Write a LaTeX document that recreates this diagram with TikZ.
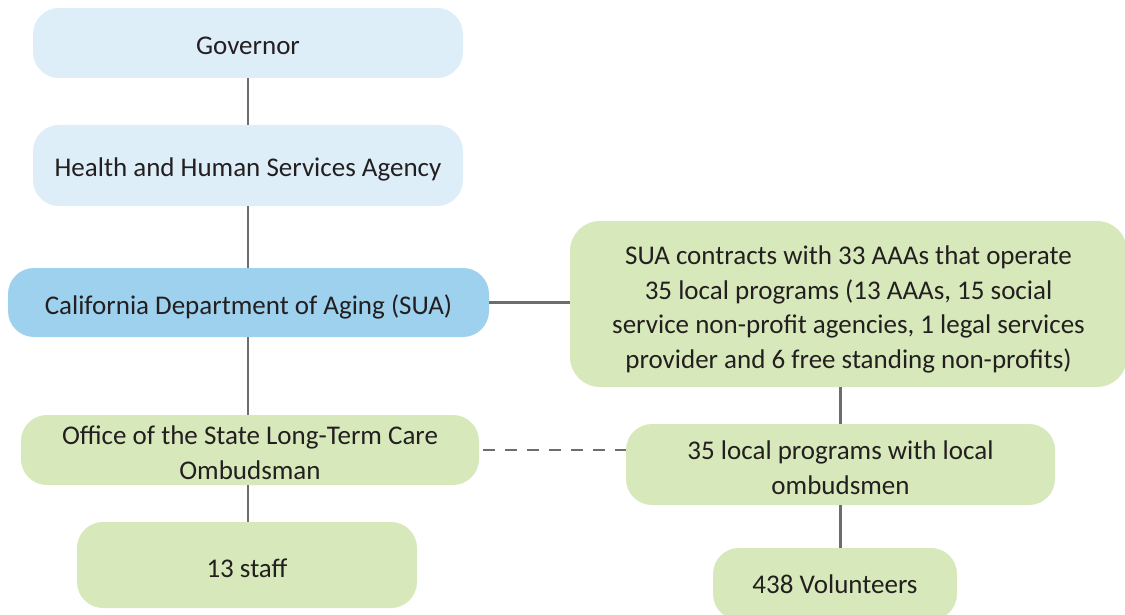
\documentclass[tikz,border=0pt]{standalone}
\usepackage{fontspec}
\setmainfont{Carlito}
\definecolor{lightblue}{HTML}{DDEEF8}
\definecolor{midblue}{HTML}{9DD1EE}
\definecolor{lightgreen}{HTML}{D7E8BA}
\definecolor{linegray}{HTML}{6D6D6D}
\definecolor{textdark}{HTML}{231F20}
\begin{document}
\begin{tikzpicture}[x=1pt,y=-1pt,
  box/.style={rectangle, rounded corners=26pt, inner sep=0pt},
  txt/.style={align=center, inner sep=0pt, text=textdark,
    font=\fontsize{27}{34.7}\selectfont, yshift=-3pt},
  conn/.style={draw=linegray, line width=2.5pt},
  dconn/.style={draw=linegray, line width=2.5pt, dash pattern=on 12pt off 10pt}]
\useasboundingbox (0,0) rectangle (1125,615);
\node[box, fill=lightblue, minimum width=430pt, minimum height=70pt,
  label={[txt]center:Governor}] (gov) at (248,43) {};
\node[box, fill=lightblue, minimum width=430pt, minimum height=81pt,
  label={[txt, yshift=-1pt]center:Health and Human Services Agency}] (hhs) at (248,165.5) {};
\node[box, fill=midblue, minimum width=481pt, minimum height=69pt,
  label={[txt, yshift=-1pt]center:{California Department of Aging (SUA)}}] (cda) at (248.5,302.5) {};
\node[box, fill=lightgreen, minimum width=458pt, minimum height=70pt,
  label={[txt]center:{Office of the State Long-Term Care\\Ombudsman}}] (off) at (250,450) {};
\node[box, fill=lightgreen, minimum width=340pt, minimum height=86pt,
  label={[txt]center:13 staff}] (staff) at (247,565) {};
\node[box, fill=lightgreen, minimum width=557pt, minimum height=166pt, rounded corners=30pt,
  label={[txt, yshift=-2.5pt]center:{SUA contracts with 33 AAAs that operate\\35 local programs (13 AAAs, 15 social\\service non-profit agencies, 1 legal services\\provider and 6 free standing non-profits)}}] (sua) at (848.5,304) {};
\node[box, fill=lightgreen, minimum width=429pt, minimum height=81pt,
  label={[txt]center:{35 local programs with local\\ombudsmen}}] (loc) at (840.5,464.5) {};
\node[box, fill=lightgreen, minimum width=244pt, minimum height=72pt,
  label={[txt, yshift=2.5pt]center:438 Volunteers}] (vol) at (835,584) {};
\draw[conn] (gov.south) -- (gov.south |- hhs.north);
\draw[conn] (hhs.south) -- (hhs.south |- cda.north);
\draw[conn] (hhs.south |- cda.south) -- (hhs.south |- off.north);
\draw[conn] (hhs.south |- off.south) -- (hhs.south |- staff.north);
\draw[conn] (cda.east) -- (cda.east -| sua.west);
\draw[conn] (loc.north) -- (loc.north |- sua.south);
\draw[conn] (loc.south) -- (loc.south |- vol.north);
\draw[dconn, shorten <=4pt] (off.east) -- (off.east -| loc.west);
\end{tikzpicture}
\end{document}
